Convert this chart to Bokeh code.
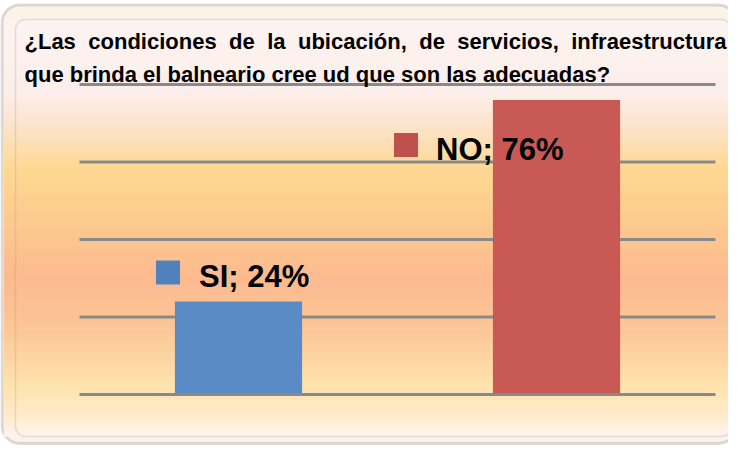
from bokeh.plotting import figure
from bokeh.models import Range1d, BoxAnnotation, ColumnDataSource
from bokeh.core.properties import value
from bokeh.embed import file_html
from bokeh.resources import INLINE

# ---------------- data ----------------
categories = ["SI", "NO"]
percentages = [24, 76]
label_texts = ["SI; 24%", "NO; 76%"]
grid_ticks = [0, 20, 40, 60, 80]
title_lines = [
    "¿Las condiciones de la ubicación, de servicios, infraestructura",
    "que brinda el balneario cree ud que son las adecuadas?",
]

# ---------------- styles ----------------
bar_colors = ["#5a8bc7", "#c95954"]
key_colors = ["#4f81bd", "#c0504d"]
FONT = "Liberation Sans"

W, H = 728, 445
PX_PER_CAT = 318.0      # pixels per category slot
PX_PER_PCT = 3.875      # pixels per percent
X0_PX = 79.0            # canvas x of category axis start
Y0_PX = 394.0           # canvas y of 0 %


def dx(px):
    return (px - X0_PX) / PX_PER_CAT


def dy(py):
    return (Y0_PX - py) / PX_PER_PCT


p = figure(width=W, height=H,
           x_range=Range1d(dx(0), dx(W)), y_range=Range1d(dy(H), dy(0)),
           x_axis_location=None, y_axis_location=None,
           toolbar_location=None, output_backend="svg",
           min_border=0, outline_line_color=None,
           background_fill_color="white", border_fill_color="white")
p.grid.visible = False

# ---------------- frame / background ----------------
outer = BoxAnnotation(left=dx(1.5), right=dx(736), top=dy(4.5), bottom=dy(443),
                      fill_color="#fbf3e8", fill_alpha=1.0,
                      line_color="#8c8c8c", line_width=3,
                      border_radius=18, level="underlay")
p.add_layout(outer)

stops = [(19, (253, 243, 241)), (92, (253, 238, 234)), (122, (253, 228, 206)),
         (169, (254, 214, 140)), (222, (253, 199, 137)), (279, (253, 182, 138)),
         (330, (253, 196, 146)), (387, (254, 226, 170)), (417, (255, 235, 204)),
         (436, (255, 243, 239))]


def grad(py):
    for (y0, c0), (y1, c1) in zip(stops[:-1], stops[1:]):
        if y0 <= py <= y1:
            t = (py - y0) / (y1 - y0)
            return "#%02x%02x%02x" % tuple(int(round(a + (b - a) * t)) for a, b in zip(c0, c1))
    return "#%02x%02x%02x" % stops[-1][1]


ys = list(range(19, 436))
p.quad(left=dx(3.5), right=dx(W), top=[dy(y - 0.3) for y in ys],
       bottom=[dy(y + 1.3) for y in ys], fill_color=[grad(y + 0.5) for y in ys],
       line_color=None)

inner = BoxAnnotation(left=dx(15), right=dx(731), top=dy(19), bottom=dy(436),
                      fill_alpha=0, line_color="#a9a39b", line_width=1.5,
                      border_radius=10)
p.add_layout(inner)

# ---------------- gridlines ----------------
n = len(categories)
upper = [t for t in grid_ticks if t != 0]
p.segment(x0=0, x1=n, y0=upper, y1=upper, line_color="#898989", line_width=3)

# ---------------- bars ----------------
centers = [i + 0.5 for i in range(n)]
p.vbar(x=centers, top=percentages, bottom=0, width=0.4,
       fill_color=bar_colors, line_color=None)

zero = [t for t in grid_ticks if t == 0]
p.segment(x0=0, x1=n, y0=zero, y1=zero, line_color="#898989", line_width=3)

# ---------------- data labels with legend keys ----------------
key_dx = [-70.5, -150.5]
key_dy = [-29, 45]
p.scatter(x=[c + o / PX_PER_CAT for c, o in zip(centers, key_dx)],
          y=[v - o / PX_PER_PCT for v, o in zip(percentages, key_dy)],
          marker="square", size=24, fill_color=key_colors, line_color=None)

lab = ColumnDataSource(dict(x=centers, y=percentages, text=label_texts,
                            xo=[-39.5, -120.5], yo=[-25, 49]))
p.text(x="x", y="y", text="text", x_offset="xo", y_offset="yo", source=lab,
       text_font=value(FONT), text_font_size="31px", text_font_style="bold",
       text_color="#000000", text_baseline="alphabetic", text_align="left")

# ---------------- title ----------------
cw = {' ': .278, '¿': .611, 'L': .611, 'a': .556, 's': .556, 'c': .556, 'o': .611,
      'n': .611, 'd': .611, 'i': .278, 'e': .556, 'l': .278, 'u': .611, 'b': .611,
      'ó': .611, ',': .278, 'r': .389, 'v': .556, 'f': .333, 't': .333}
TS = 22
words = title_lines[0].split(" ")
widths = [sum(cw.get(ch, .556) for ch in w) * TS for w in words]
left_px, right_px = 24.0, 726.0
gap = (right_px - left_px - sum(widths)) / (len(words) - 1)
xs, cur = [], left_px
for w in widths:
    xs.append(cur)
    cur += w + gap
p.text(x=[dx(x) for x in xs], y=[dy(41)] * len(words), text=words,
       text_font=value(FONT), text_font_size=f"{TS}px", text_font_style="bold",
       text_color="#000000", text_baseline="alphabetic", text_align="left")
p.text(x=[dx(24)], y=[dy(74)], text=[title_lines[1]],
       text_font=value(FONT), text_font_size=f"{TS}px", text_font_style="bold",
       text_color="#000000", text_baseline="alphabetic", text_align="left")

open("out.html", "w").write(file_html(p, INLINE))
